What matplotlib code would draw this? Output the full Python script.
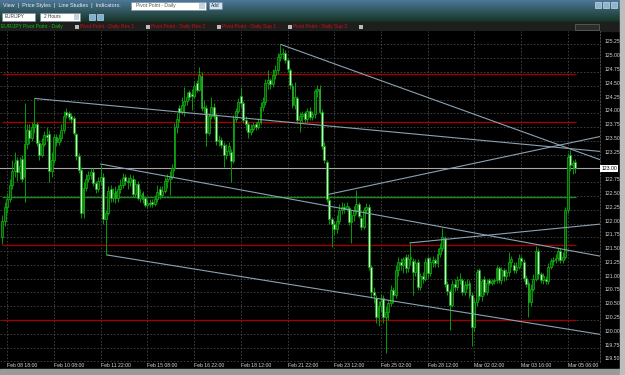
import matplotlib

matplotlib.use("Agg")
import matplotlib.pyplot as plt  # noqa: E402
import numpy as np  # noqa: E402
from matplotlib.patches import Rectangle  # noqa: E402
from matplotlib.transforms import ScaledTranslation  # noqa: E402

# ---- EUR/JPY 2-hour candles ----
opens = [
    121.75, 122.05, 122.30, 122.45, 122.70, 122.95, 123.15, 122.94, 123.17, 122.85,
    123.45, 123.70, 123.55, 123.75, 123.80, 123.46, 123.25, 123.45, 123.60, 123.62,
    122.95, 123.15, 123.58, 123.48, 123.55, 123.70, 124.03, 124.00, 123.95, 123.92,
    123.62, 123.22, 122.98, 122.20, 122.65, 122.80, 122.88, 122.94, 122.74, 122.62,
    122.78, 122.85, 122.08, 122.20, 122.62, 122.47, 122.60, 122.46, 122.62, 122.70,
    122.85, 122.77, 122.75, 122.80, 122.53, 122.72, 122.47, 122.55, 122.46, 122.34,
    122.38, 122.40, 122.35, 122.45, 122.62, 122.52, 122.60, 122.78, 122.80, 122.85,
    123.00, 123.75, 124.10, 124.03, 124.15, 124.22, 124.38, 124.36, 124.32, 124.55,
    124.43, 124.68, 124.10, 124.10, 123.65, 123.95, 124.12, 123.96, 123.49, 123.52,
    123.43, 123.25, 123.32, 123.30, 123.13, 123.90, 124.05, 124.32, 124.18, 123.88,
    123.80, 123.66, 123.72, 123.80, 123.76, 123.85, 124.12, 124.20, 124.55, 124.60,
    124.53, 124.70, 124.78, 125.02, 125.08, 125.10, 124.97, 124.78, 124.50, 124.16,
    124.28, 123.88, 123.95, 124.00, 123.90, 124.05, 123.93, 123.98, 124.40, 124.45,
    124.03, 123.40, 123.12, 122.42, 122.08, 122.00, 121.90, 122.05, 122.25, 122.30,
    122.26, 122.28, 122.02, 122.15, 122.25, 122.35, 122.10, 121.94, 122.25, 122.30,
    121.22, 120.75, 120.65, 120.30, 120.50, 120.65, 120.30, 120.40, 120.55, 120.80,
    120.70, 121.15, 121.30, 121.25, 121.39, 121.19, 121.35, 121.32, 121.12, 121.30,
    120.85, 121.05, 121.00, 121.37, 121.10, 121.30, 121.33, 121.29, 121.45, 121.55,
    121.74, 120.90, 120.78, 120.53, 120.90, 120.85, 120.98, 120.98, 120.75, 120.88,
    120.92, 120.70, 120.12, 120.58, 121.15, 120.68, 121.00, 120.75, 120.98, 120.93,
    120.95, 120.97, 121.19, 120.98, 121.15, 121.05, 121.12, 121.30, 121.25, 121.15,
    121.22, 121.38, 121.30, 121.02, 120.92, 120.58, 120.82, 121.00, 121.50, 121.08,
    120.98, 121.00, 120.95, 121.22, 121.32, 121.33, 121.38, 121.50, 121.33, 121.40,
    122.25, 123.25, 123.06, 123.12,
]
highs = [
    122.15, 122.40, 122.55, 122.80, 123.15, 123.30, 123.20, 123.20, 123.25, 124.19,
    123.80, 123.80, 123.85, 124.28, 123.85, 123.52, 123.55, 123.68, 123.75, 123.70,
    123.30, 123.62, 123.62, 123.62, 123.80, 124.05, 124.10, 124.05, 124.00, 123.95,
    123.65, 123.28, 123.02, 122.75, 122.90, 122.95, 123.00, 123.00, 122.78, 122.85,
    123.06, 122.92, 122.25, 122.68, 122.70, 122.65, 122.68, 122.70, 122.80, 122.92,
    122.90, 122.85, 122.90, 122.88, 122.80, 122.78, 122.62, 122.60, 122.50, 122.45,
    122.44, 122.45, 122.52, 122.70, 122.68, 122.68, 122.85, 122.90, 122.95, 123.08,
    123.82, 124.00, 124.15, 124.30, 124.48, 124.38, 124.42, 124.45, 124.58, 124.60,
    124.85, 124.75, 124.25, 124.15, 124.00, 124.30, 124.18, 124.00, 123.60, 123.58,
    123.48, 123.45, 123.48, 123.35, 123.97, 124.10, 124.28, 124.46, 124.22, 123.95,
    123.85, 123.80, 123.85, 123.85, 123.92, 124.20, 124.30, 124.62, 124.78, 124.65,
    124.80, 124.88, 125.10, 125.26, 125.18, 125.15, 125.00, 124.82, 124.55, 124.57,
    124.32, 124.02, 124.05, 124.05, 124.10, 124.12, 124.05, 124.45, 124.52, 124.52,
    124.08, 123.48, 123.15, 122.50, 122.12, 122.05, 122.15, 122.35, 122.40, 122.38,
    122.40, 122.32, 122.25, 122.32, 122.61, 122.40, 122.15, 122.30, 122.38, 122.35,
    121.25, 120.85, 120.70, 120.60, 120.72, 120.70, 120.50, 120.62, 120.88, 120.85,
    121.25, 121.40, 121.38, 121.40, 121.45, 121.45, 121.65, 121.38, 121.35, 121.35,
    121.10, 121.12, 121.38, 121.42, 121.40, 121.42, 121.38, 121.55, 121.65, 121.92,
    121.78, 120.95, 120.82, 120.98, 121.00, 121.05, 121.10, 121.02, 120.95, 121.00,
    120.98, 120.75, 120.65, 121.18, 121.20, 121.00, 121.05, 121.00, 121.02, 121.00,
    121.02, 121.25, 121.23, 121.22, 121.20, 121.18, 121.48, 121.42, 121.30, 121.30,
    121.45, 121.42, 121.35, 121.06, 120.98, 120.90, 121.08, 121.60, 121.55, 121.12,
    121.10, 121.05, 121.28, 121.38, 121.40, 121.45, 121.58, 121.55, 121.48, 122.30,
    123.28, 123.34, 123.15, 123.18,
]
lows = [
    121.63, 121.95, 122.20, 122.40, 122.62, 122.85, 122.78, 122.80, 122.75, 122.40,
    123.35, 123.45, 123.50, 123.65, 123.40, 123.15, 123.20, 123.40, 123.50, 122.75,
    122.85, 123.10, 123.40, 123.42, 123.50, 123.65, 123.92, 123.88, 123.82, 123.60,
    123.15, 122.92, 122.10, 122.10, 122.60, 122.75, 122.80, 122.68, 122.55, 122.58,
    122.70, 122.00, 121.43, 122.15, 122.40, 122.40, 122.38, 122.40, 122.55, 122.65,
    122.70, 122.62, 122.68, 122.48, 122.48, 122.42, 122.40, 122.38, 122.30, 122.28,
    122.30, 122.30, 122.32, 122.40, 122.45, 122.48, 122.55, 122.65, 122.52, 122.80,
    122.95, 123.65, 123.85, 123.98, 123.95, 124.15, 124.25, 124.06, 124.28, 124.38,
    124.40, 124.05, 124.00, 123.40, 123.60, 123.90, 123.90, 123.42, 123.40, 123.38,
    123.03, 123.18, 123.25, 122.75, 123.10, 123.85, 124.00, 124.12, 123.82, 123.70,
    123.55, 123.60, 123.68, 123.70, 123.72, 123.80, 124.05, 124.15, 124.45, 124.45,
    124.48, 124.62, 124.72, 124.95, 124.98, 124.92, 124.75, 124.45, 124.10, 124.08,
    123.82, 123.66, 123.85, 123.85, 123.85, 123.88, 123.88, 123.92, 124.30, 123.98,
    123.35, 123.10, 122.40, 122.00, 121.58, 121.80, 121.82, 122.00, 122.18, 122.20,
    122.22, 121.98, 121.65, 122.05, 122.18, 122.10, 121.88, 121.90, 122.20, 121.15,
    120.65, 120.55, 120.20, 120.15, 120.40, 120.20, 119.66, 120.25, 120.50, 120.55,
    120.65, 121.05, 121.15, 121.10, 121.10, 121.12, 121.25, 120.70, 121.05, 120.80,
    120.80, 120.92, 120.95, 121.02, 121.05, 121.22, 121.22, 121.22, 121.40, 121.50,
    120.85, 120.70, 120.07, 120.48, 120.78, 120.80, 120.90, 120.70, 120.70, 120.82,
    120.65, 119.78, 120.05, 120.50, 120.62, 120.60, 120.70, 120.70, 120.88, 120.88,
    120.90, 120.92, 120.92, 120.90, 120.95, 120.98, 121.05, 121.22, 121.10, 121.10,
    121.18, 121.25, 120.95, 120.85, 120.30, 120.50, 120.78, 120.95, 121.00, 120.92,
    120.90, 120.90, 120.90, 121.18, 121.25, 121.28, 121.32, 121.28, 121.28, 121.35,
    122.20, 122.95, 122.90, 122.92,
]
closes = [
    122.05, 122.30, 122.45, 122.70, 122.95, 123.10, 122.94, 123.05, 122.80, 123.45,
    123.70, 123.55, 123.75, 123.80, 123.46, 123.25, 123.45, 123.60, 123.58, 122.95,
    123.15, 123.58, 123.48, 123.55, 123.70, 123.95, 123.97, 123.93, 123.90, 123.64,
    123.22, 122.98, 122.20, 122.65, 122.80, 122.88, 122.94, 122.74, 122.62, 122.78,
    122.85, 122.08, 122.20, 122.60, 122.47, 122.55, 122.46, 122.62, 122.70, 122.82,
    122.77, 122.75, 122.82, 122.53, 122.72, 122.47, 122.52, 122.44, 122.34, 122.38,
    122.36, 122.35, 122.45, 122.58, 122.52, 122.60, 122.78, 122.80, 122.85, 123.00,
    123.75, 123.90, 124.03, 124.15, 124.22, 124.30, 124.30, 124.32, 124.50, 124.43,
    124.70, 124.10, 124.12, 123.65, 123.95, 124.12, 123.95, 123.49, 123.52, 123.43,
    123.25, 123.32, 123.40, 123.13, 123.90, 124.05, 124.20, 124.18, 123.88, 123.80,
    123.66, 123.72, 123.78, 123.76, 123.85, 124.12, 124.20, 124.55, 124.60, 124.53,
    124.70, 124.78, 125.02, 125.08, 125.10, 124.97, 124.80, 124.52, 124.16, 124.30,
    123.88, 123.95, 123.98, 123.90, 124.05, 123.93, 123.98, 124.40, 124.45, 124.03,
    123.40, 123.15, 122.45, 122.08, 122.00, 121.90, 122.05, 122.25, 122.30, 122.26,
    122.32, 122.02, 122.15, 122.25, 122.35, 122.14, 121.94, 122.25, 122.30, 121.22,
    120.75, 120.70, 120.30, 120.50, 120.60, 120.30, 120.40, 120.55, 120.80, 120.70,
    121.15, 121.30, 121.25, 121.35, 121.19, 121.35, 121.40, 121.12, 121.28, 120.85,
    121.05, 121.00, 121.30, 121.10, 121.30, 121.33, 121.29, 121.45, 121.55, 121.75,
    120.90, 120.78, 120.53, 120.90, 120.85, 120.98, 121.00, 120.75, 120.88, 120.90,
    120.70, 120.12, 120.58, 121.12, 120.68, 120.95, 120.75, 120.92, 120.93, 120.95,
    120.97, 121.20, 120.98, 121.15, 121.05, 121.12, 121.30, 121.35, 121.15, 121.22,
    121.38, 121.32, 121.02, 120.90, 120.58, 120.82, 121.00, 121.50, 121.08, 120.98,
    121.05, 120.95, 121.22, 121.32, 121.33, 121.38, 121.50, 121.33, 121.40, 122.25,
    123.20, 123.06, 123.10, 123.00,
]

# daily pivot levels
pivot = 122.48
res_levels = [124.715, 123.84]
sup_levels = [121.62, 120.25]
last_price = 123.00

# hand-drawn trend lines: (start bar, start price, end bar, end price)
trend_lines = [
    (13.3, 124.27, 243.1, 123.31),
    (113.3, 125.25, 243.1, 123.16),
    (132.6, 122.53, 243.1, 123.58),
    (40.0, 123.08, 243.1, 121.41),
    (42.6, 121.43, 243.1, 119.99),
    (165.8, 121.65, 243.1, 121.99),
]

date_bars = [2, 21, 40, 59, 78, 97, 116, 135, 154, 173, 192, 211, 230]
date_labels = ["Feb 08 18:00", "Feb 10 08:00", "Feb 11 22:00", "Feb 15 08:00",
               "Feb 16 22:00", "Feb 18 12:00", "Feb 21 22:00", "Feb 23 12:00",
               "Feb 25 02:00", "Feb 28 12:00", "Mar 02 02:00", "Mar 03 16:00",
               "Mar 05 06:00"]
price_ticks = [125.25, 125.00, 124.75, 124.50, 124.25, 124.00, 123.75, 123.50,
               123.25, 122.75, 122.50, 122.25, 122.00, 121.75, 121.50, 121.25,
               121.00, 120.75, 120.50, 120.25, 120.00, 119.75, 119.50]

W, H = 625, 375
FONT = "Liberation Sans"


def box(x0, y0, x1, y1):
    return [x0 / W, 1 - y1 / H, (x1 - x0) / W, (y1 - y0) / H]


fig = plt.figure(figsize=(W / 100, H / 100), dpi=100, facecolor="black")

# ---- window chrome in pixel coordinates ----
ui = fig.add_axes([0, 0, 1, 1])
ui.set_xlim(0, W)
ui.set_ylim(H, 0)
ui.axis("off")
grad = np.linspace(0, 1, 64)[:, None]
top_c = np.array([0.30, 0.47, 0.60])
bot_c = np.array([0.08, 0.20, 0.14])
img = top_c + (bot_c - top_c) * grad[..., None]
ui.imshow(img, extent=(0, W, 22, 0), aspect="auto", zorder=0)
ui.add_patch(Rectangle((0, 22), W, 9, color="#1e1e1e", zorder=1))
ui.add_patch(Rectangle((0, 368.5), W, 6.5, color="#9a9a9a", zorder=1))
ui.add_patch(Rectangle((620, 0), 5, H, color="#bdbdbd", zorder=2))

ui.text(3, 6, "View  |  Price Styles  |  Line Studies  |  Indicators:", fontsize=3.9,
        color="#e8eef2", va="center", family=FONT)
ui.add_patch(Rectangle((131, 1.5), 75, 8, facecolor="white", edgecolor="#7a8a9a", lw=0.4, zorder=2))
ui.text(136, 5.6, "Pivot Point - Daily", fontsize=3.6, color="#555555", va="center", family=FONT, zorder=3)
ui.add_patch(Rectangle((199, 2.5), 6, 6, facecolor="#c8d2dc", lw=0, zorder=3))
ui.add_patch(Rectangle((209, 2), 13, 7, facecolor="#d4e2ee", edgecolor="#6a8aa8", lw=0.4, zorder=2))
ui.text(215.5, 5.6, "Add", fontsize=3.4, color="#223344", va="center", ha="center", family=FONT, zorder=3)
ui.add_patch(Rectangle((2, 12.5), 33, 8, facecolor="white", edgecolor="#7a8a9a", lw=0.4, zorder=2))
ui.text(5, 16.6, "EUR/JPY", fontsize=3.4, color="#333333", va="center", family=FONT, zorder=3)
ui.add_patch(Rectangle((40, 12.5), 40, 8, facecolor="white", edgecolor="#7a8a9a", lw=0.4, zorder=2))
ui.text(44, 16.6, "2 Hours", fontsize=3.4, color="#333333", va="center", family=FONT, zorder=3)
ui.add_patch(Rectangle((74, 13.5), 5, 6, facecolor="#c8d2dc", lw=0, zorder=3))
for bx in (89, 97):
    ui.add_patch(Rectangle((bx, 13.5), 6, 6, facecolor="#7ab0d8", edgecolor="#d8e8f4", lw=0.4, zorder=3))
for bx in (595, 603, 611):
    ui.add_patch(Rectangle((bx, 2), 6, 6, facecolor="#8fb4cc", edgecolor="#e0ecf4", lw=0.4, zorder=3))

legend = [("EUR/JPY Pivot Point - Daily", "#10c010", 1, 75),
          ("Pivot Point - Daily Res 1", "#d01010", 80, 146),
          ("Pivot Point - Daily Res 2", "#d01010", 151, 217),
          ("Pivot Point - Daily Sup 1", "#d01010", 222, 288),
          ("Pivot Point - Daily Sup 2", "#d01010", 293, 359)]
for text, col, tx, arrow_x in legend:
    ui.text(tx, 26.5, text, fontsize=3.6, color=col, va="center", family=FONT, zorder=3)
    ui.add_patch(Rectangle((arrow_x, 24.5), 3.5, 4, facecolor="#bbbbbb", lw=0, zorder=3))
ui.add_patch(Rectangle((575, 23.5), 24, 6, facecolor="#2c2c2c", edgecolor="#777777", lw=0.4, zorder=3))

# ---- price chart ----
ax = fig.add_axes(box(0, 31, 600, 361.5))
ax.set_facecolor("black")
idx = np.arange(len(closes))
o = np.array(opens)
c = np.array(closes)
up = c >= o
ax.vlines(idx, lows, highs, color="#00a000", lw=0.7, zorder=3)
body_lo = np.minimum(o, c)
body_h = np.maximum(np.abs(c - o), 0.012)
ax.bar(idx[up], body_h[up], bottom=body_lo[up], width=0.78,
       color="#0c4a0c", edgecolor="#10b010", linewidth=0.55, zorder=4)
ax.bar(idx[~up], body_h[~up], bottom=body_lo[~up], width=0.78,
       color="#c6f4c6", edgecolor="#10a010", linewidth=0.55, zorder=4)

for lvl in res_levels + sup_levels:
    ax.hlines(lvl, 0, 233.3, color="#a00000", lw=1.0, zorder=2)
ax.hlines(pivot, 0, 233.3, color="#1c8c1c", lw=1.0, zorder=2)
ax.axhline(last_price, color="#a8a8a8", lw=0.8, zorder=2)
for x0, y0, x1, y1 in trend_lines:
    ax.plot([x0, x1], [y0, y1], color="#8aa2b4", lw=0.8, zorder=5)

ax.set_xlim(-0.98, 243.1)
ax.set_ylim(119.497, 125.495)
ax.set_xticks(date_bars)
ax.set_xticklabels(date_labels)
ax.set_yticks(price_ticks)
ax.set_yticklabels([f"{v:.2f}" for v in price_ticks])
ax.yaxis.tick_right()
ax.tick_params(axis="both", length=0, colors="#d8d8d8", labelsize=3.7)
ax.tick_params(axis="y", pad=3)
ax.tick_params(axis="x", pad=1.2)
for lbl in ax.get_xticklabels():
    lbl.set_ha("left")
    lbl.set_family(FONT)
up_shift = ScaledTranslation(0, 3 / 100, fig.dpi_scale_trans)
for lbl in ax.get_yticklabels():
    lbl.set_family(FONT)
    lbl.set_transform(lbl.get_transform() + up_shift)
ax.grid(True, color="#474747", linestyle=(0, (2, 2)), linewidth=0.6, zorder=1)
for side in ("top", "left", "bottom"):
    ax.spines[side].set_visible(False)
ax.spines["right"].set_color("#555555")
ax.spines["right"].set_linestyle((0, (2, 2)))
ax.spines["right"].set_linewidth(0.6)

# current price tag on the scale
ax.text(1.002, last_price, f"{last_price:.2f}", transform=ax.get_yaxis_transform(),
        fontsize=3.7, color="black", va="center", ha="left", family=FONT,
        bbox=dict(boxstyle="square,pad=0.25", facecolor="white", edgecolor="none"),
        clip_on=False, zorder=6)

fig.savefig("out.png", dpi=100, facecolor="black")
